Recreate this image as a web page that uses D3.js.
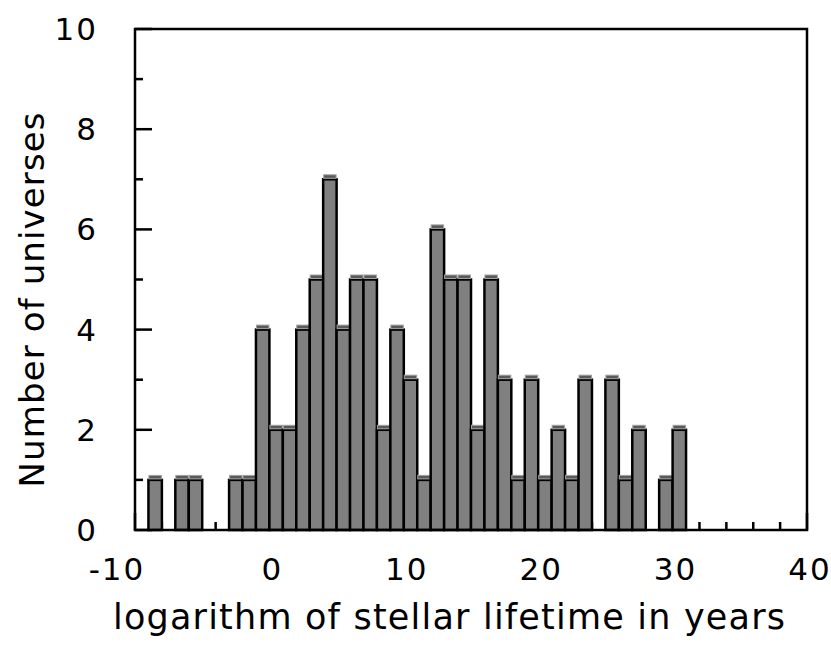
<!DOCTYPE html>
<html>
<head>
<meta charset="utf-8">
<script src="https://cdn.jsdelivr.net/npm/d3@7"></script>
<style>
  body { margin: 0; background: #fff; }
  text { font-family: "DejaVu Sans", Verdana, sans-serif; fill: #000; }
</style>
</head>
<body>
<div id="chart"></div>
<script>
// bins of width 1, starting at these left edges
const binStarts = [-9, -8, -7, -6, -5, -4, -3, -2, -1, 0, 1, 2, 3, 4, 5, 6, 7, 8, 9, 10,
                   11, 12, 13, 14, 15, 16, 17, 18, 19, 20, 21, 22, 23, 24, 25, 26, 27, 28, 29, 30];
const counts    = [1, 0, 1, 1, 0, 0, 1, 1, 4, 2, 2, 4, 5, 7, 4, 5, 5, 2, 4, 3,
                   1, 6, 5, 5, 2, 5, 3, 1, 3, 1, 2, 1, 3, 0, 3, 1, 2, 0, 1, 2];
const xTicks = [-10, 0, 10, 20, 30, 40];
const yTicks = [0, 2, 4, 6, 8, 10];

const width = 831, height = 654;
const margin = { top: 29, right: 24, bottom: 124, left: 135 };

const svg = d3.select("#chart").append("svg")
    .attr("width", width)
    .attr("height", height);

const x = d3.scaleLinear().domain([-10, 40]).range([margin.left, width - margin.right]);
const y = d3.scaleLinear().domain([0, 10]).range([height - margin.bottom, margin.top]);

const data = binStarts.map((b, i) => ({ x0: b, x1: b + 1, n: counts[i] }));

// inward ticks
const g = svg.append("g").attr("stroke", "#000").attr("stroke-width", 2.5);
d3.range(-10, 41, 2).forEach(v => {
    const len = v % 10 === 0 ? 17 : 8;
    g.append("line")
        .attr("x1", x(v)).attr("x2", x(v))
        .attr("y1", y(0)).attr("y2", y(0) - len);
});
d3.range(0, 11, 1).forEach(v => {
    const len = v % 2 === 0 ? 17 : 8;
    g.append("line")
        .attr("x1", x(-10)).attr("x2", x(-10) + len)
        .attr("y1", y(v)).attr("y2", y(v));
});

// bars
const bars = svg.append("g")
    .selectAll("g")
    .data(data.filter(d => d.n > 0))
    .join("g");

bars.append("rect")
    .attr("x", d => x(d.x0))
    .attr("y", d => y(d.n))
    .attr("width", d => x(d.x1) - x(d.x0))
    .attr("height", d => y(0) - y(d.n))
    .attr("fill", "#808080")
    .attr("stroke", "#000")
    .attr("stroke-width", 2.5);

// little bevelled cap on top of each bar
bars.append("rect")
    .attr("x", d => x(d.x0) + 0.5)
    .attr("y", d => y(d.n) - 4.5)
    .attr("width", d => x(d.x1) - x(d.x0) - 1)
    .attr("height", 3.5)
    .attr("fill", "#5a5a5a")
    .attr("stroke", "#a0a0a0")
    .attr("stroke-width", 1);

// frame
svg.append("rect")
    .attr("x", x(-10)).attr("y", y(10))
    .attr("width", x(40) - x(-10))
    .attr("height", y(0) - y(10))
    .attr("fill", "none")
    .attr("stroke", "#000")
    .attr("stroke-width", 2.5);

// tick labels
svg.append("g").selectAll("text")
    .data(xTicks)
    .join("text")
    .attr("x", d => x(d) + (d < 0 ? -18 : 3))
    .attr("y", 580)
    .attr("text-anchor", "middle")
    .attr("font-size", 31)
    .attr("letter-spacing", 2)
    .text(d => String(d));

svg.append("g").selectAll("text")
    .data(yTicks)
    .join("text")
    .attr("x", 98)
    .attr("y", d => y(d) + 11)
    .attr("text-anchor", "end")
    .attr("font-size", 31)
    .attr("letter-spacing", 2)
    .text(d => String(d));

// axis titles
svg.append("text")
    .attr("x", 449)
    .attr("y", 629)
    .attr("text-anchor", "middle")
    .attr("font-size", 35)
    .attr("textLength", 672)
    .attr("lengthAdjust", "spacing")
    .text("logarithm of stellar lifetime in years");

svg.append("text")
    .attr("transform", "translate(44,300) rotate(-90)")
    .attr("text-anchor", "middle")
    .attr("font-size", 34)
    .attr("textLength", 375)
    .attr("lengthAdjust", "spacing")
    .text("Number of universes");
</script>
</body>
</html>
